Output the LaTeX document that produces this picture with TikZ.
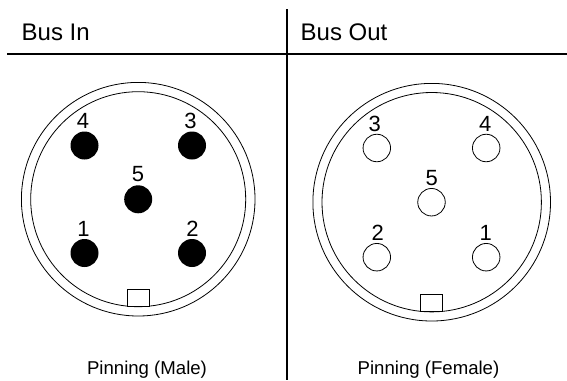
\documentclass[tikz,border=0pt]{standalone}
\usepackage{fontspec}
\setmainfont{Liberation Sans}

\tikzset{
    shell/.style={shape=circle,draw=black,line width=0.8,inner sep=0,minimum size=#1},
    pinmale/.style={shape=circle,fill=black,inner sep=0,minimum size=28},
    pinfemale/.style={shape=circle,draw=black,line width=0.8,inner sep=0,minimum size=27.5},
    keytab/.style={shape=rectangle,draw=black,fill=white,line width=0.8,inner sep=0,minimum width=22,minimum height=17.5},
    pinlabel/.style={anchor=base,inner sep=0,font=\fontsize{22}{22}\selectfont},
    headlabel/.style={anchor=base west,inner sep=0,font=\fontsize{24}{24}\selectfont},
    footlabel/.style={anchor=base,inner sep=0,font=\fontsize{18.6}{18.6}\selectfont},
    rule/.style={draw=black,line width=2}
}

\begin{document}
\begin{tikzpicture}[x=1pt,y=-1pt]
    \useasboundingbox (0,0) rectangle (567,380);

    \coordinate (ruleW) at (7,53.5);
    \coordinate (ruleE) at (567,53.5);
    \coordinate (ruleN) at (286.7,9);
    \coordinate (ruleS) at (286.7,380);
    \path[rule] (ruleW) edge (ruleE);
    \path[rule] (ruleN) edge (ruleS);

    \node[headlabel] (busin) at (21.5,40.7) {Bus In};
    \node[headlabel] (busout) at (300.5,40.7) {Bus Out};

    % male side
    \node[shell=233.6] (maleouter) at (138.2,199.2) {};
    \node[shell=215] (maleinner) at (138.2,199.2) {};
    \node[keytab] (maletab) at (138.3,298) {};
    \node[pinmale] (m4) at (84.5,145.5) {};
    \node[pinmale] (m3) at (192,145.5) {};
    \node[pinmale] (m5) at (138.2,199.3) {};
    \node[pinmale] (m1) at (84.5,253) {};
    \node[pinmale] (m2) at (192,253) {};
    \node[pinlabel] (ml4) at (83,128) {4};
    \node[pinlabel] (ml3) at (190.5,128) {3};
    \node[pinlabel] (ml5) at (138,181.5) {5};
    \node[pinlabel] (ml1) at (83.5,236) {1};
    \node[pinlabel] (ml2) at (192.5,236) {2};
    \node[footlabel] (malefoot) at (147,374.3) {Pinning (Male)};

    % female side
    \node[shell=237.6] (femaleouter) at (431.7,202.2) {};
    \node[shell=219.4] (femaleinner) at (431.7,202.2) {};
    \node[keytab] (femaletab) at (431.5,303) {};
    \node[pinfemale] (f3) at (376.8,148) {};
    \node[pinfemale] (f4) at (486.2,148) {};
    \node[pinfemale] (f5) at (431.5,202.2) {};
    \node[pinfemale] (f2) at (376.8,257.2) {};
    \node[pinfemale] (f1) at (486.2,257.2) {};
    \node[pinlabel] (fl3) at (374.7,131) {3};
    \node[pinlabel] (fl4) at (485.3,131) {4};
    \node[pinlabel] (fl5) at (431.7,185) {5};
    \node[pinlabel] (fl2) at (377.7,240) {2};
    \node[pinlabel] (fl1) at (485.7,240) {1};
    \node[footlabel] (femalefoot) at (428.5,374.3) {Pinning (Female)};
\end{tikzpicture}
\end{document}
